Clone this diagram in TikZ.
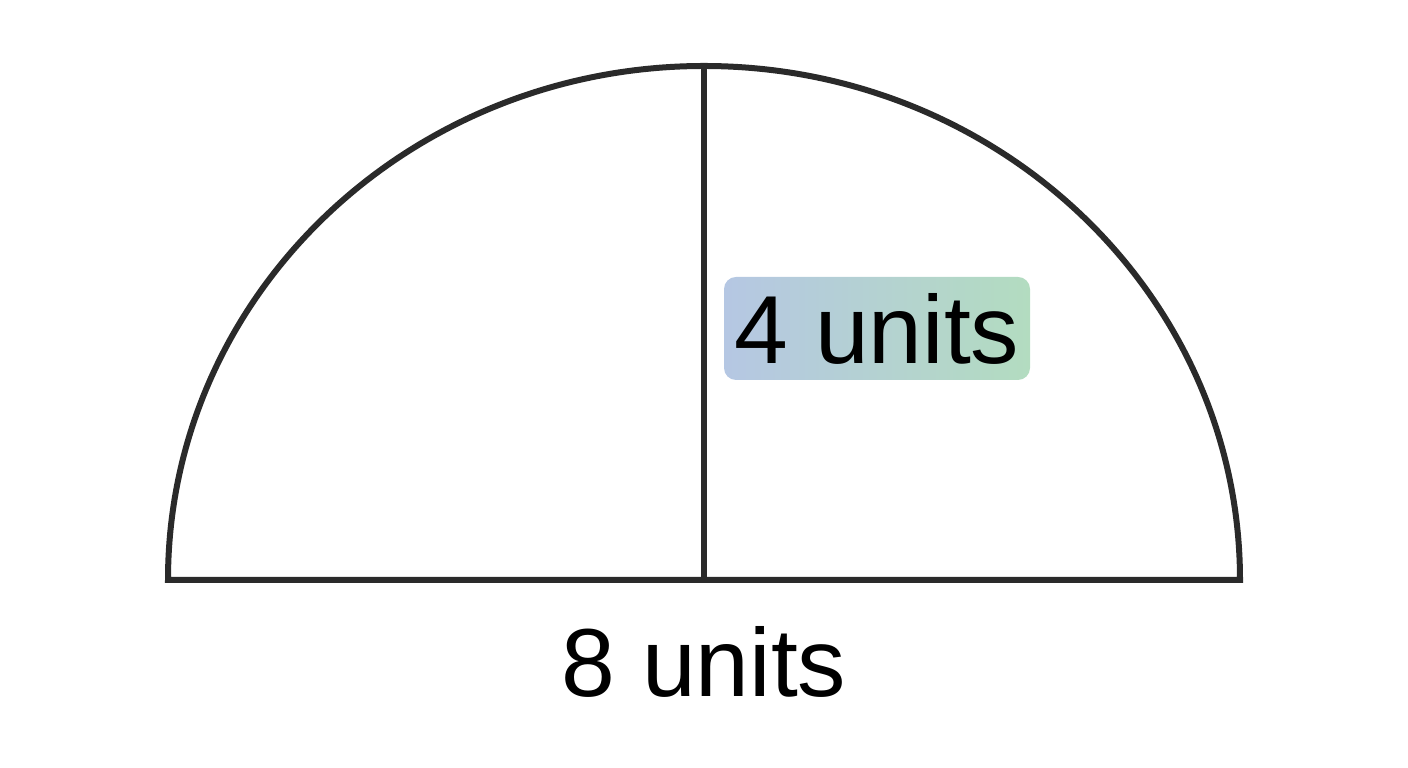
\documentclass[tikz,border=0pt]{standalone}
\usepackage{fontspec}
\setmainfont{Liberation Sans}
\usetikzlibrary{positioning}
\definecolor{edgegray}{HTML}{2A2A2A}
\definecolor{boxblue}{HTML}{B5C7E3}
\definecolor{boxgreen}{HTML}{B3DCC0}

\begin{document}
\begin{tikzpicture}[
    every node/.style={
        inner sep=0pt,
        align=center,
        font=\fontsize{55}{60}\selectfont
    },
    outline/.style={draw=edgegray, line width=1.2mm, line join=miter},
    labelbox/.style={
        rounded corners=2.4mm,
        left color=boxblue, right color=boxgreen,
        minimum width=6.12cm, minimum height=2.06cm
    }
]
\useasboundingbox (0,0) rectangle (28.16,15.36);
\coordinate (centre) at (14.08,3.76);
\coordinate (left) at (3.36,3.76);
\coordinate (right) at (24.80,3.76);
\coordinate (top) at (14.08,14.04);
\draw[outline] (left) arc[start angle=180, end angle=0,
    x radius=10.72cm, y radius=10.28cm] -- cycle;
\draw[outline] (centre) -- (top);
\node[labelbox] (radius) at (17.54,8.79) {4 units};
\node[anchor=base] (diameter) at (14.08,1.42) {8 units};
\end{tikzpicture}
\end{document}
